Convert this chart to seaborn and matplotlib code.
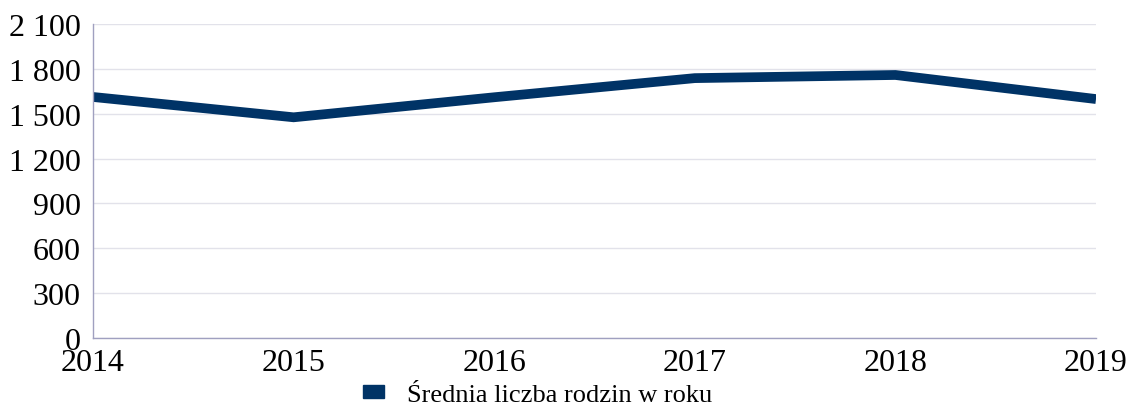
import pandas as pd
import seaborn as sns
import matplotlib.pyplot as plt
from matplotlib.patches import Patch
from matplotlib.ticker import FuncFormatter

# Données
lata = [2014, 2015, 2016, 2017, 2018, 2019]
srednia_rodzin = [1612, 1476, 1610, 1738, 1759, 1598]
etykieta = "Średnia liczba rodzin w roku"
kolor = "#003366"

df = pd.DataFrame({"rok": lata, "rodziny": srednia_rodzin})

sns.set_style("white")
plt.rcParams["font.family"] = ["Liberation Serif", "DejaVu Serif"]

fig, ax = plt.subplots(figsize=(11.3, 4.06), dpi=100)
fig.subplots_adjust(left=93 / 1130, right=1096 / 1130, top=1 - 25 / 406, bottom=1 - 339 / 406)

sns.lineplot(data=df, x="rok", y="rodziny", color=kolor, linewidth=7, ax=ax,
             solid_joinstyle="miter", solid_capstyle="butt")

ax.set_xlim(2014, 2019)
ax.set_ylim(0, 2100)
ax.set_xticks(lata)
ax.set_yticks(range(0, 2101, 300))
ax.yaxis.set_major_formatter(FuncFormatter(lambda v, p: f"{int(v):,}".replace(",", " ")))
ax.grid(axis="y", color="#e2e2ea", linewidth=1)
ax.set_axisbelow(True)

for s in ["top", "right"]:
    ax.spines[s].set_visible(False)
for s in ["left", "bottom"]:
    ax.spines[s].set_color("#a0a0c0")
    ax.spines[s].set_linewidth(1)

ax.tick_params(axis="both", length=0, labelsize=23, colors="black")
ax.tick_params(axis="y", pad=9)
ax.tick_params(axis="x", pad=7)
ax.set_xlabel("")
ax.set_ylabel("")

ax.legend(handles=[Patch(color=kolor)], labels=[etykieta], loc="center",
          bbox_to_anchor=(538 / 1130, 1 - 396 / 406), bbox_transform=fig.transFigure,
          frameon=False, fontsize=19, labelcolor="black",
          handlelength=0.76, handleheight=0.34, handletextpad=0.9)

plt.savefig("out.png", dpi=100)
